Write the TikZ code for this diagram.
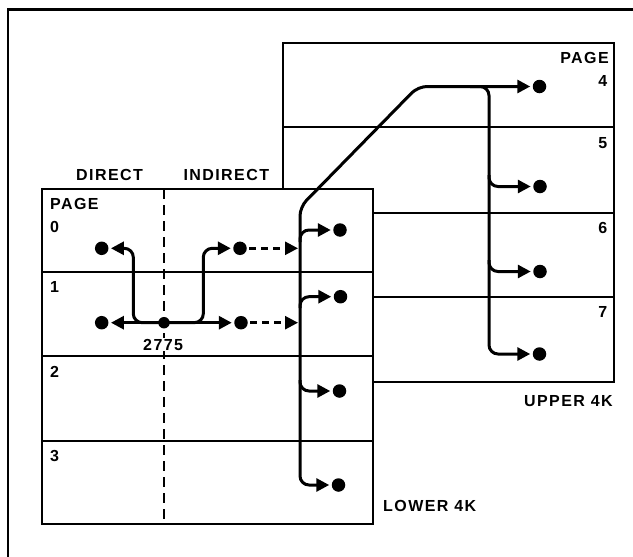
\documentclass[tikz,border=0pt]{standalone}
\usepackage{fontspec}
\newfontfamily\lblfont{Liberation Sans}[LetterSpace=9]
\usetikzlibrary{arrows.meta}
\begin{document}
\begin{tikzpicture}[x=1pt,y=-1pt,
  boxline/.style={line width=2.2pt},
  conn/.style={line width=3pt, rounded corners=9pt},
  tip/.style={-{Triangle[length=13pt,width=13pt]}},
  dot/.style={circle, fill, inner sep=0pt, minimum size=13.5pt, outer sep=2.5pt},
  jdot/.style={circle, fill, inner sep=0pt, minimum size=11.5pt},
  lbl/.style={inner sep=0pt, font=\lblfont\bfseries\fontsize{16}{16}\selectfont},
]
\useasboundingbox (0,0) rectangle (633,557);
% outer frame
\draw[boxline] (633,9.5) -- (8,9.5) -- (8,557);
% upper 4K box
\draw[boxline, fill=white] (282.7,42.7) rectangle (614.3,381.7);
\foreach \y in {126.7,212.7,296.7} \draw[boxline] (282.7,\y) -- (614.3,\y);
% lower 4K box
\draw[boxline, fill=white] (42,189) rectangle (373,524);
\foreach \y in {272,356,441} \draw[boxline] (42,\y) -- (373,\y);
\draw[line width=2.2pt, dash pattern=on 10pt off 6pt] (164,189) -- (164,524);
% labels
\node[lbl, anchor=base west] (tdir) at (76,180.7) {DIRECT};
\node[lbl, anchor=base west] (tind) at (183.3,180.7) {INDIRECT};
\node[lbl, anchor=base west] (tpl) at (50,209) {PAGE};
\node[lbl, anchor=base west] (t0) at (50,232) {0};
\node[lbl, anchor=base west] (t1l) at (50,292) {1};
\node[lbl, anchor=base west] (t2l) at (50,377) {2};
\node[lbl, anchor=base west] (t3l) at (50,461) {3};
\node[lbl, anchor=base west, fill=white, inner sep=1pt] (taddr) at (142,350) {2775};
\node[lbl, anchor=base east] (tpu) at (609,63) {PAGE};
\node[lbl, anchor=base east] (t4) at (607.5,86) {4};
\node[lbl, anchor=base east] (t5) at (607.5,148) {5};
\node[lbl, anchor=base east] (t6) at (607.5,233) {6};
\node[lbl, anchor=base east] (t7) at (607.5,317) {7};
\node[lbl, anchor=base east] (tup) at (613,406) {UPPER 4K};
\node[lbl, anchor=base west] (tlow) at (383,511.7) {LOWER 4K};
% dots
\node[dot] (d0L) at (101.7,248.3) {};
\node[dot] (d1L) at (101.7,322.7) {};
\node[jdot] (j) at (164,322.7) {};
\node[dot] (m0) at (240,248.3) {};
\node[dot] (m1) at (241,322.7) {};
\node[dot] (l0) at (340,230) {};
\node[dot] (l1) at (340.5,296.7) {};
\node[dot] (l2) at (339.5,391) {};
\node[dot] (l3) at (338.5,485) {};
\node[dot] (u4) at (539.5,86.5) {};
\node[dot] (u5) at (540,186.5) {};
\node[dot] (u6) at (540,271.5) {};
\node[dot] (u7) at (539.5,354) {};
% bend points
\coordinate (cL) at (133.3,248.3);
\coordinate (cR) at (203.3,248.3);
\coordinate (e0) at (298,248.3);
\coordinate (e1) at (298,322.7);
\coordinate (t1) at (300,207);
\coordinate (t2) at (418,86.5);
\coordinate (b0) at (300,242);
\coordinate (b1) at (300,308);
\coordinate (b2) at (300,380);
\coordinate (ut) at (470,86.5);
\coordinate (ub) at (489,354);
\coordinate (b5) at (489,175);
\coordinate (b6) at (489,260);
% connectors in pages 0 and 1
\draw[conn,tip] (j.center) -- (d1L);
\draw[conn,tip] (j.center) -- (m1);
\draw[conn,tip] (j.center) -| (cL) -- (d0L);
\draw[conn,tip] (j.center) -| (cR) -- (m0);
\draw[line width=2.6pt, dash pattern=on 7pt off 5pt, tip] (m0) -- (e0);
\draw[line width=2.6pt, dash pattern=on 7pt off 5pt, tip] (m1) -- (e1);
% trunk
\draw[conn,{Triangle[length=13pt,width=13pt]}-{Triangle[length=13pt,width=13pt]}] (l3) -| (t1) -- (t2) -- (u4);
\draw[conn,tip] (b0) |- (l0);
\draw[conn,tip] (b1) |- (l1);
\draw[conn,tip] (b2) |- (l2);
\draw[conn,tip] (ut) -| (ub) -- (u7);
\draw[conn,tip] (b5) |- (u5);
\draw[conn,tip] (b6) |- (u6);
\end{tikzpicture}
\end{document}
